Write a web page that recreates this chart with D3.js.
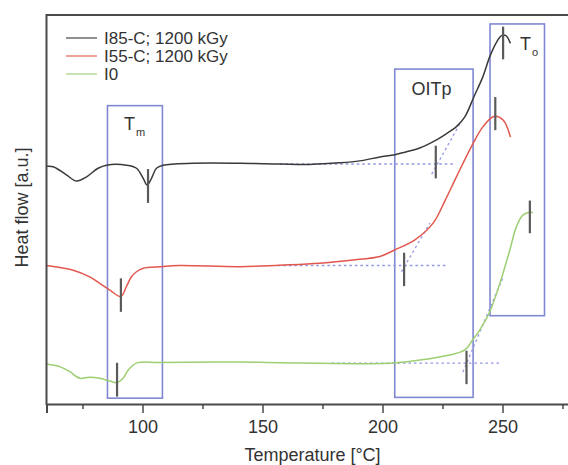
<!DOCTYPE html>
<html>
<head>
<meta charset="utf-8">
<script src="https://cdn.jsdelivr.net/npm/d3@7"></script>
<style>
  html, body { margin: 0; padding: 0; background: #fff; }
  svg { display: block; font-family: "Liberation Sans", Arial, Helvetica, sans-serif; }
</style>
</head>
<body>
<svg id="chart" width="568" height="465"></svg>
<script>
// DSC thermograms: temperature [°C] vs heat flow [a.u.], curves offset vertically
const seriesNames = ["I85-C; 1200 kGy", "I55-C; 1200 kGy", "I0"];
const seriesColors = ["#3a3a3a", "#e2574e", "#9dcf72"];

const curveI85 = [
  [60, 61.1], [62.8, 61.0], [68.3, 58.9], [72.5, 57.3], [76.7, 58.4], [81.5, 60.6],
  [85.0, 61.4], [93.3, 61.4], [97.5, 60.6], [100.3, 58.0], [101.9, 56.3], [103.75, 58.0],
  [105.8, 60.6], [108.6, 61.4], [121.1, 61.9], [140.5, 61.9], [157.2, 61.7], [169.7, 61.6],
  [182.2, 62.0], [190.5, 62.5], [198.9, 63.5], [204.4, 64.0], [209.7, 64.8], [215.5, 65.8],
  [222.5, 67.9], [226.4, 69.4], [230.8, 71.3], [234.3, 73.8], [238.1, 79.0], [241.8, 84.1],
  [244.7, 89.3], [247.6, 93.1], [249.6, 94.7], [251.4, 94.7], [253.3, 92.7]
];
const curveI55 = [
  [60, 35.6], [71.1, 34.4], [78.0, 32.7], [82.2, 31.0], [86.4, 29.3], [91.0, 27.6],
  [93.3, 30.2], [95.4, 32.7], [97.5, 34.0], [100.3, 34.9], [107.2, 35.3], [115.5, 35.6],
  [140.5, 35.3], [157.2, 35.7], [173.9, 36.2], [190.5, 37.2], [198.9, 37.9], [205.1, 39.6],
  [213.5, 42.2], [221.1, 46.5], [226.0, 52.2], [230.8, 58.4], [237.75, 67.0], [241.9, 71.3],
  [246.4, 73.9], [250.25, 73.0], [253.3, 68.6]
];
const curveI0 = [
  [60, 10.3], [65.5, 9.6], [69.7, 8.3], [73.9, 6.6], [78.0, 6.9], [82.2, 6.6],
  [86.4, 5.9], [89.4, 5.5], [91.9, 6.6], [94.0, 8.7], [97.5, 10.5], [107.2, 10.7],
  [140.5, 10.8], [157.2, 10.6], [203.0, 10.5], [215.5, 11.3], [228.0, 12.6], [234.3, 13.9],
  [237.6, 16.5], [240.5, 19.0], [244.7, 23.7], [248.9, 31.0], [253.05, 39.6], [255.8, 45.6],
  [258.6, 48.6], [262.1, 49.3], [262.6, 49.1]
];
const curves = [curveI85, curveI55, curveI0];

// Characteristic temperatures marked on each curve: [temperature, low, high]
const markersTm = [[102.3, 51.7, 60.4], [91.0, 23.7, 32.3], [89.4, 1.9, 10.6]];
const markersOITp = [[222.2, 58.0, 66.4], [209.0, 30.3, 38.9], [235.0, 5.1, 13.7]];
const markersTo = [[250.25, 88.6, 97.0], [247.0, 70.4, 78.9], [261.4, 43.9, 52.3]];

// Onset construction: baseline [t0, t1, level] and tangent [t0, v0, t1, v1]
const baselines = [[157.2, 230.5, 61.7], [156.4, 227.2, 35.6], [178.75, 249.6, 10.5]];
const tangents = [[220.5, 59.1, 232.2, 72.0], [207.9, 34.0, 219.7, 46.5], [233.5, 8.2, 250.1, 32.4]];

// Highlighted regions: [t0, t1, v0, v1, label, subscript]
const regions = [
  [85.4, 108.3, 1.5, 76.7, "T", "m"],
  [205.1, 237.75, 1.7, 86.1, "OITp", ""],
  [244.8, 267.5, 22.7, 97.7, "T", "o"]
];

const xTicks = [100, 150, 200, 250];
const xMinorTicks = [75, 125, 175, 225, 275];

const svg = d3.select("#chart");
const x = d3.scaleLinear().domain([60, 280]).range([46.5, 574.5]);
const y = d3.scaleLinear().domain([0, 100]).range([404, 15]);
const frameColor = "#4a4a4a";
const boxColor = "#8088d2";

// region boxes
const rg = svg.append("g");
regions.forEach(r => {
  rg.append("rect")
    .attr("x", x(r[0])).attr("y", y(r[3]))
    .attr("width", x(r[1]) - x(r[0])).attr("height", y(r[2]) - y(r[3]))
    .attr("fill", "none").attr("stroke", boxColor).attr("stroke-width", 1.6);
});

// onset construction lines
const dg = svg.append("g").attr("stroke", "#9197e2").attr("stroke-width", 1.3)
  .attr("stroke-dasharray", "2.5,3").attr("fill", "none");
baselines.forEach(b => {
  dg.append("line").attr("x1", x(b[0])).attr("x2", x(b[1])).attr("y1", y(b[2])).attr("y2", y(b[2]));
});
tangents.forEach(t => {
  dg.append("line").attr("x1", x(t[0])).attr("y1", y(t[1])).attr("x2", x(t[2])).attr("y2", y(t[3]));
});

// curves
const line = d3.line().x(d => x(d[0])).y(d => y(d[1])).curve(d3.curveCatmullRom.alpha(0.5));
curves.forEach((c, i) => {
  svg.append("path").datum(c).attr("d", line)
    .attr("fill", "none").attr("stroke", seriesColors[i]).attr("stroke-width", 1.5);
});

// markers
const mg = svg.append("g").attr("stroke", "#5a5a5a").attr("stroke-width", 2.2);
[markersTm, markersOITp, markersTo].forEach(set => {
  set.forEach(m => {
    mg.append("line").attr("x1", x(m[0])).attr("x2", x(m[0])).attr("y1", y(m[1])).attr("y2", y(m[2]));
  });
});

// region labels
const labelPos = [[124, 129.5], [411.5, 95], [520, 49.5]];
regions.forEach((r, i) => {
  const t = svg.append("text").attr("font-size", 18).attr("fill", "#333")
    .attr("x", labelPos[i][0]).attr("y", labelPos[i][1]);
  t.append("tspan").text(r[4]);
  if (r[5]) {
    t.append("tspan").attr("font-size", 11).attr("dy", 6).attr("dx", 1).text(r[5]);
  }
});

// frame
svg.append("line").attr("x1", 46.5).attr("x2", 568).attr("y1", 15).attr("y2", 15)
  .attr("stroke", frameColor).attr("stroke-width", 2);
svg.append("line").attr("x1", 46.5).attr("x2", 46.5).attr("y1", 14).attr("y2", 405)
  .attr("stroke", frameColor).attr("stroke-width", 2);

// x axis
const xAxis = d3.axisBottom(x).tickValues(xTicks).tickSize(9).tickPadding(7).tickFormat(d3.format("d"));
const ax = svg.append("g").attr("transform", "translate(0,404)").call(xAxis);
ax.select(".domain").attr("stroke", frameColor).attr("stroke-width", 2);
ax.selectAll(".tick line").attr("stroke", frameColor).attr("stroke-width", 1.5);
ax.selectAll(".tick text").attr("font-size", 18).attr("fill", "#333")
  .attr("font-family", "Liberation Sans, Arial, sans-serif");
const minor = svg.append("g").attr("transform", "translate(0,404)")
  .call(d3.axisBottom(x).tickValues(xMinorTicks).tickSize(5).tickFormat(""));
minor.select(".domain").remove();
minor.selectAll(".tick line").attr("stroke", frameColor).attr("stroke-width", 1.5);

// axis titles
svg.append("text").attr("x", 312.5).attr("y", 461).attr("text-anchor", "middle")
  .attr("font-size", 18).attr("fill", "#333").text("Temperature [°C]");
svg.append("text").attr("transform", "translate(28,207.5) rotate(-90)").attr("text-anchor", "middle")
  .attr("font-size", 18).attr("fill", "#333").text("Heat flow [a.u.]");

// legend
const lg = svg.append("g");
seriesNames.forEach((n, i) => {
  const cy = 38 + i * 18;
  lg.append("line").attr("x1", 66).attr("x2", 97).attr("y1", cy).attr("y2", cy)
    .attr("stroke", seriesColors[i]).attr("stroke-width", 1.5).attr("opacity", 0.75);
  lg.append("text").attr("x", 104).attr("y", cy + 6).attr("font-size", 17)
    .attr("fill", "#333").text(n);
});
</script>
</body>
</html>
